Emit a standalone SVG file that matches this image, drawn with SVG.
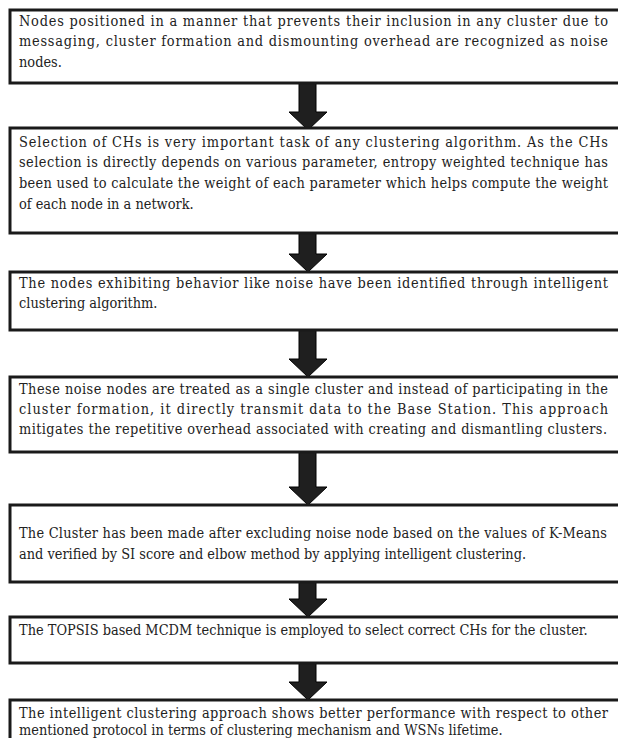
<svg xmlns="http://www.w3.org/2000/svg" width="618" height="738" viewBox="0 0 618 738">
<style>
.box{fill:#fff;stroke:#1a1a1a;stroke-width:3}
.t{font-family:"DejaVu Serif Condensed","DejaVu Serif","Liberation Serif",serif;font-stretch:condensed;font-size:14.4px;fill:#222}
.arr{fill:#1f1f1f;stroke:#000;stroke-width:1}
</style>
<rect x="0" y="0" width="618" height="738" fill="#fff"/>
<g id="connectors">
<path class="arr" d="M299,83 H316 V112 H327 L308,130 L289,112 H299 Z"/>
<path class="arr" d="M299,233 H316 V254 H327 L308,272 L289,254 H299 Z"/>
<path class="arr" d="M299,330 H316 V359 H327 L308,377 L289,359 H299 Z"/>
<path class="arr" d="M299,452 H316 V487 H327 L308,505 L289,487 H299 Z"/>
<path class="arr" d="M299,582 H316 V599 H327 L308,617 L289,599 H299 Z"/>
<path class="arr" d="M299,663 H316 V682 H327 L308,700 L289,682 H299 Z"/>
</g>
<g id="n1">
<rect class="box" x="10" y="10" width="620" height="73"/>
<text class="t" x="19" y="26" textLength="589" lengthAdjust="spacing">Nodes positioned in a manner that prevents their inclusion in any cluster due to</text>
<text class="t" x="19" y="46" textLength="589" lengthAdjust="spacing">messaging, cluster formation and dismounting overhead are recognized as noise</text>
<text class="t" x="19" y="67">nodes.</text>
</g>
<g id="n2">
<rect class="box" x="10" y="128" width="620" height="105"/>
<text class="t" x="19" y="147" textLength="589" lengthAdjust="spacing">Selection of CHs is very important task of any clustering algorithm. As the CHs</text>
<text class="t" x="19" y="167" textLength="589" lengthAdjust="spacing">selection is directly depends on various parameter, entropy weighted technique has</text>
<text class="t" x="19" y="188" textLength="589" lengthAdjust="spacing">been used to calculate the weight of each parameter which helps compute the weight</text>
<text class="t" x="19" y="209">of each node in a network.</text>
</g>
<g id="n3">
<rect class="box" x="10" y="272" width="620" height="58"/>
<text class="t" x="19" y="288" textLength="589" lengthAdjust="spacing">The nodes exhibiting behavior like noise have been identified through intelligent</text>
<text class="t" x="19" y="308">clustering algorithm.</text>
</g>
<g id="n4">
<rect class="box" x="10" y="377" width="620" height="75"/>
<text class="t" x="19" y="394" textLength="589" lengthAdjust="spacing">These noise nodes are treated as a single cluster and instead of participating in the</text>
<text class="t" x="19" y="414" textLength="589" lengthAdjust="spacing">cluster formation, it directly transmit data to the Base Station. This approach</text>
<text class="t" x="19" y="434" textLength="588" lengthAdjust="spacing">mitigates the repetitive overhead associated with creating and dismantling clusters.</text>
</g>
<g id="n5">
<rect class="box" x="10" y="505" width="620" height="77"/>
<text class="t" x="19" y="538" textLength="588" lengthAdjust="spacing">The Cluster has been made after excluding noise node based on the values of K-Means</text>
<text class="t" x="19" y="559">and verified by SI score and elbow method by applying intelligent clustering.</text>
</g>
<g id="n6">
<rect class="box" x="10" y="617" width="620" height="46"/>
<text class="t" x="19" y="635">The TOPSIS based MCDM technique is employed to select correct CHs for the cluster.</text>
</g>
<g id="n7">
<rect class="box" x="10" y="700" width="620" height="60"/>
<text class="t" x="19" y="718" textLength="589" lengthAdjust="spacing">The intelligent clustering approach shows better performance with respect to other</text>
<text class="t" x="19" y="735">mentioned protocol in terms of clustering mechanism and WSNs lifetime.</text>
</g>
</svg>
